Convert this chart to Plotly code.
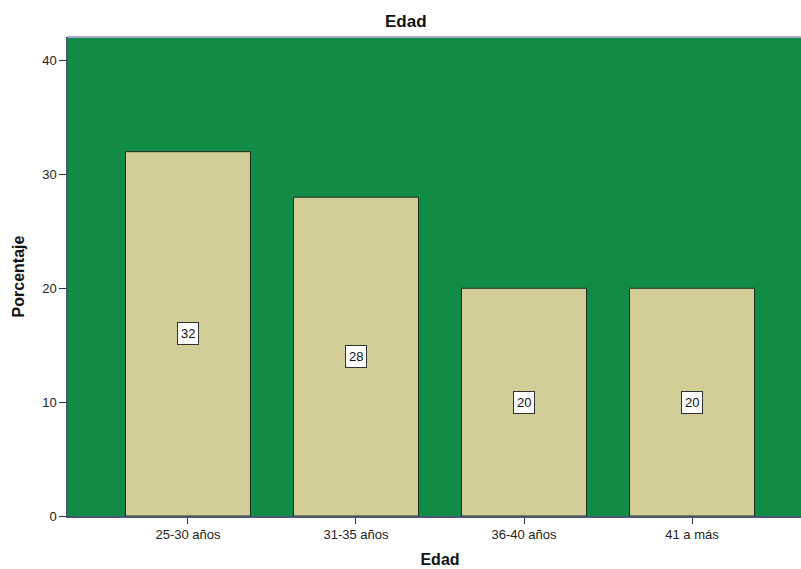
import plotly.graph_objects as go

categories = ["25-30 años", "31-35 años", "36-40 años", "41 a más"]
values = [32, 28, 20, 20]
y_ticks = [0, 10, 20, 30, 40]

FONT = "Liberation Sans, Arial, sans-serif"

fig = go.Figure()
fig.add_trace(go.Bar(
    x=categories, y=values, width=0.744,
    marker=dict(color="#d3cd98", line=dict(color="#1f2a1f", width=1)),
    showlegend=False, hoverinfo="skip",
))
for c, v in zip(categories, values):
    fig.add_annotation(x=c, y=v / 2, text=str(v), showarrow=False,
                       bgcolor="white", bordercolor="#333333", borderwidth=1, borderpad=3,
                       font=dict(family=FONT, size=13, color="#111111"))

fig.add_annotation(xref="paper", yref="paper", x=(406 - 68) / 744, y=1, yshift=15.5,
                   yanchor="middle", text="<b>Edad</b>", showarrow=False,
                   font=dict(family=FONT, size=17, color="#111111"))

# light top border of plot area
fig.add_shape(type="line", xref="paper", yref="paper", x0=0, x1=1, y0=1, y1=1,
              line=dict(color="#a9a9cc", width=2), layer="above")

fig.update_layout(
    width=812, height=569,
    margin=dict(l=68, r=0, t=37, b=53, autoexpand=False),
    paper_bgcolor="white", plot_bgcolor="#118c46",
    font=dict(family=FONT, size=13, color="#222222"),
    xaxis=dict(range=[-0.714, 3.714], showline=True, linecolor="#4a5478", linewidth=1.5,
               ticks="outside", ticklen=6, tickcolor="#333333", tickfont=dict(size=13),
               title=dict(text="<b>Edad</b>", font=dict(size=16, color="#111111"), standoff=12),
               showgrid=False, zeroline=False, fixedrange=True, automargin=False),
    yaxis=dict(range=[0, 42.07], tickvals=y_ticks, showline=True, linecolor="#4a5478", linewidth=1.5,
               ticks="outside", ticklen=7, tickcolor="#333333", tickfont=dict(size=13),
               title=dict(text="<b>Porcentaje</b>", font=dict(size=16, color="#111111"), standoff=14),
               showgrid=False, zeroline=False, fixedrange=True, automargin=False),
)
fig.write_html("out.html", config={"displayModeBar": False},
               post_script="document.body.style.margin='0';document.body.style.overflow='hidden';")
